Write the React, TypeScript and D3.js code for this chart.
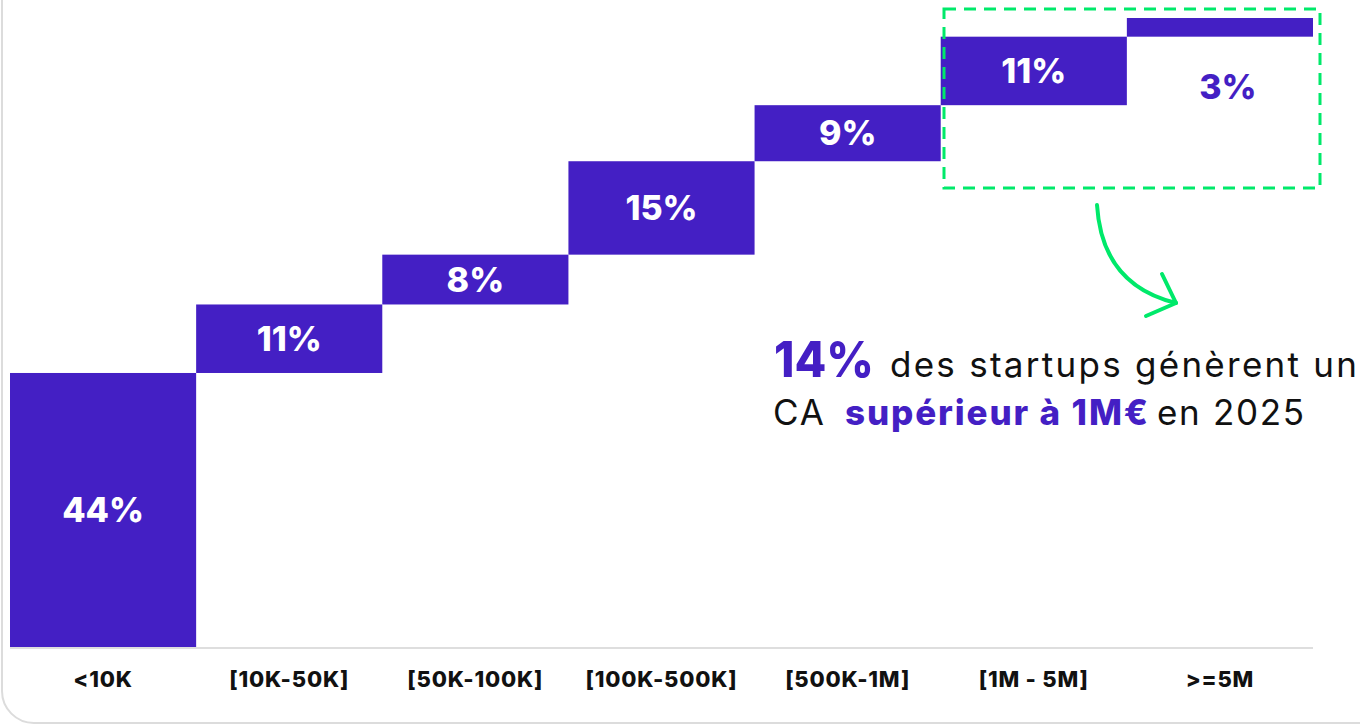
import React from "react";
import * as d3 from "d3";

const categories = ["<10K", "[10K-50K]", "[50K-100K]", "[100K-500K]", "[500K-1M]", "[1M - 5M]", ">=5M"];
const values = [44, 11, 8, 15, 9, 11, 3];
const valueLabels = ["44%", "11%", "8%", "15%", "9%", "11%", "3%"];

const W = 1360;
const H = 725;
const PURPLE = "#441FC4";
const GREEN = "#00E96A";
const FONT = "Inter, 'Open Sans', sans-serif";

export default function App() {
  const x = d3.scaleBand<string>().domain(categories).range([10, 1313]).padding(0);
  const total = d3.sum(values);
  const y = d3.scaleLinear().domain([0, total]).range([647, 18]);
  let acc = 0;
  const bars = values.map((v, i) => {
    const start = acc;
    acc += v;
    return { cat: categories[i], start, end: acc, label: valueLabels[i], v };
  });
  const bw = x.bandwidth();
  return (
    <svg width={W} height={H} style={{ position: "absolute", left: 0, top: 0, display: "block", background: "#fff" }}>
      <rect x={2} y={-40} width={1400} height={763} rx={32} ry={32} fill="#fff" stroke="#dcdcdc" strokeWidth={2} />
      {bars.map((b) => {
        const x0 = x(b.cat)!;
        const yTop = y(b.end);
        const yBot = y(b.start);
        const h = yBot - yTop;
        const inside = h > 30;
        return (
          <g key={b.cat}>
            <rect x={x0} y={yTop} width={bw} height={h} fill={PURPLE} />
            <text
              x={x0 + bw / 2 + (inside ? 0 : 8)}
              y={inside ? (yTop + yBot) / 2 : yBot + 50}
              dy="0.36em"
              textAnchor="middle"
              fontFamily={FONT}
              fontWeight={800}
              fontSize={34}
              fill={inside ? "#fff" : PURPLE}
            >
              {b.label}
            </text>
          </g>
        );
      })}
      <line x1={10} x2={1313} y1={648} y2={648} stroke="#dedede" strokeWidth={2} />
      {categories.map((c) => (
        <text
          key={c}
          x={x(c)! + bw / 2}
          y={687}
          textAnchor="middle"
          fontFamily={FONT}
          fontWeight={800}
          fontSize={22}
          letterSpacing={0.8}
          fill="#111"
        >
          {c}
        </text>
      ))}
      <rect x={944} y={9} width={376} height={179} fill="none" stroke={GREEN} strokeWidth={3} strokeDasharray="12 8" />
      <path d="M1097,205 Q1102,285 1176,303" fill="none" stroke={GREEN} strokeWidth={4} strokeLinecap="round" />
      <path d="M1162,274 L1176,303 L1146,316" fill="none" stroke={GREEN} strokeWidth={4} strokeLinecap="round" strokeLinejoin="round" />
      <text x={774} y={377} fontFamily={FONT} fontWeight={800} fontSize={50} fill={PURPLE} textLength={100} lengthAdjust="spacingAndGlyphs">14%</text>
      <text x={890} y={377} fontFamily={FONT} fontSize={35} fill="#111" textLength={467} lengthAdjust="spacing">des startups génèrent un</text>
      <text x={773} y={425} fontFamily={FONT} fontSize={35} fill="#111" textLength={51} lengthAdjust="spacing">CA</text>
      <text x={845} y={425} fontFamily={FONT} fontWeight={800} fontSize={35} fill={PURPLE} textLength={303} lengthAdjust="spacing">supérieur à 1M€</text>
      <text x={1157} y={425} fontFamily={FONT} fontSize={35} fill="#111" textLength={147} lengthAdjust="spacing">en 2025</text>
    </svg>
  );
}
